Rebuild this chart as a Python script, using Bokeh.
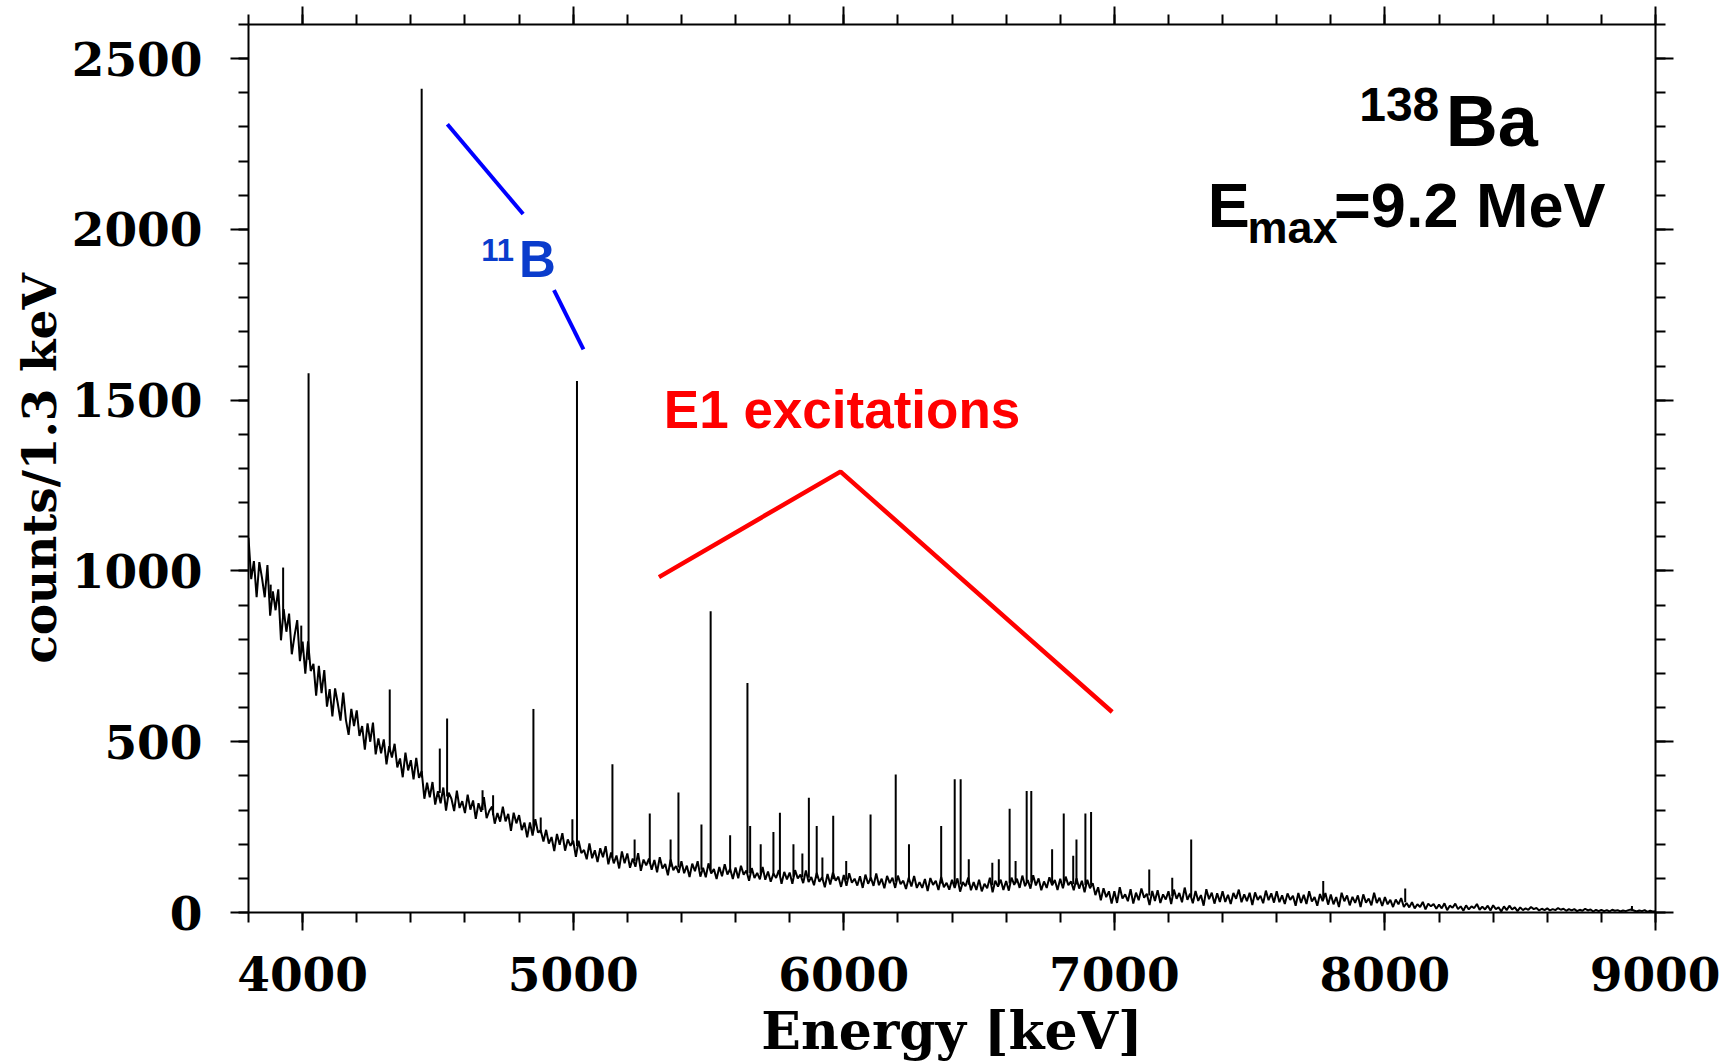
import numpy as np
from bokeh.plotting import figure
from bokeh.models import LinearAxis, FixedTicker, Label, Range1d, CustomLabelingPolicy
from bokeh.embed import file_html
from bokeh.resources import INLINE

# ---------------- data ----------------
x_major = [4000, 5000, 6000, 7000, 8000, 9000]
x_minor = list(range(3800, 9001, 200))
y_major = [0, 500, 1000, 1500, 2000, 2500]
y_minor = list(range(0, 2601, 100))

# continuum, read every 10 keV starting at 3800 keV
bg_start = 3800
bg_step = 10
bg_counts = [
    1097, 976, 1029, 923, 1026, 979, 923, 1017, 869, 940,  # 3800
    885, 946, 797, 888, 822, 875, 756, 810, 856, 736,      # 3900
    793, 699, 794, 707, 728, 635, 722, 642, 710, 603,      # 4000
    654, 574, 656, 612, 562, 644, 564, 520, 596, 546,      # 4100
    592, 517, 546, 477, 554, 500, 556, 463, 510, 466,      # 4200
    507, 434, 487, 454, 494, 425, 451, 396, 468, 416,      # 4300
    446, 390, 453, 394, 414, 333, 380, 337, 382, 316,      # 4400
    355, 320, 366, 298, 351, 333, 297, 357, 306, 326,      # 4500
    291, 345, 301, 328, 274, 320, 295, 338, 276, 298,      # 4600
    310, 260, 291, 266, 310, 267, 289, 239, 292, 261,      # 4700
    285, 241, 263, 220, 264, 225, 273, 234, 241, 208,      # 4800
    242, 202, 221, 180, 230, 198, 232, 181, 214, 195,      # 4900
    210, 163, 210, 174, 183, 156, 202, 159, 182, 148,      # 5000
    188, 162, 194, 141, 176, 144, 167, 129, 179, 144,      # 5100
    173, 131, 158, 134, 174, 122, 155, 138, 158, 125,      # 5200
    154, 118, 162, 129, 142, 109, 155, 124, 136, 116,      # 5300
    150, 115, 137, 104, 143, 121, 150, 105, 131, 103,      # 5400
    144, 114, 127, 98, 133, 106, 141, 111, 128, 98,        # 5500
    132, 100, 137, 111, 123, 93, 130, 101, 116, 97,        # 5600
    133, 96, 120, 90, 114, 101, 124, 84, 119, 97,          # 5700
    117, 84, 124, 100, 111, 86, 123, 89, 104, 80,          # 5800
    116, 90, 103, 74, 113, 82, 117, 93, 105, 75,           # 5900
    110, 78, 115, 87, 99, 79, 106, 72, 111, 84,            # 6000
    102, 78, 114, 80, 99, 71, 107, 86, 102, 72,            # 6100
    108, 83, 93, 69, 102, 76, 107, 72, 89, 72,             # 6200
    98, 63, 101, 81, 93, 66, 104, 74, 87, 67,              # 6300
    96, 72, 100, 61, 89, 77, 102, 65, 89, 66,              # 6400
    96, 62, 84, 71, 102, 59, 93, 76, 96, 66,               # 6500
    92, 64, 102, 81, 99, 72, 108, 77, 95, 70,              # 6600
    109, 79, 100, 65, 91, 72, 103, 80, 95, 66,             # 6700
    99, 71, 105, 80, 91, 65, 100, 70, 93, 59,              # 6800
    96, 71, 86, 51, 74, 36, 71, 45, 62, 26,                # 6900
    62, 28, 74, 41, 53, 33, 68, 26, 58, 36,                # 7000
    70, 43, 55, 22, 63, 34, 65, 28, 53, 38,                # 7100
    62, 25, 67, 40, 57, 30, 73, 37, 55, 27,                # 7200
    63, 34, 51, 20, 68, 39, 58, 26, 56, 31,                # 7300
    62, 31, 52, 25, 57, 40, 67, 30, 53, 33,                # 7400
    58, 22, 59, 37, 49, 27, 64, 36, 56, 29,                # 7500
    62, 30, 50, 25, 56, 37, 49, 20, 57, 28,                # 7600
    52, 25, 62, 32, 45, 20, 54, 33, 57, 23,                # 7700
    53, 24, 45, 16, 58, 33, 50, 21, 46, 28,                # 7800
    50, 16, 53, 29, 41, 21, 58, 28, 43, 19,                # 7900
    45, 24, 37, 16, 38, 24, 42, 16, 28, 15,                # 8000
    30, 12, 24, 16, 31, 9, 26, 18, 25, 11,                 # 8100
    23, 12, 27, 7, 20, 14, 26, 10, 18, 5,                  # 8200
    21, 9, 18, 13, 25, 8, 17, 9, 20, 6,                    # 8300
    21, 10, 15, 3, 18, 7, 20, 9, 15, 4,                    # 8400
    15, 7, 12, 8, 16, 10, 13, 6, 11, 7,                    # 8500
    12, 6, 10, 7, 13, 8, 11, 5, 10, 6,                     # 8600
    10, 4, 8, 5, 11, 6, 9, 3, 8, 4,                        # 8700
    8, 4, 7, 3, 8, 5, 7, 3, 6, 4,                          # 8800
    7, 9, 6, 3, 6, 4, 7, 2, 5, 3,                          # 8900
    4,                                                     # 9000
]

# gamma lines: energy, peak height, foot level
peak_energy = [3882, 3928, 3995, 4022, 4322, 4440, 4507, 4534, 4665, 4704,
               4853, 4880, 4997, 5014, 5145, 5227, 5283, 5360, 5389, 5474,
               5508, 5580, 5644, 5654, 5693, 5740, 5764, 5814, 5847, 5871,
               5900, 5921, 5961, 6009, 6099, 6192, 6241, 6360, 6410, 6432,
               6462, 6549, 6573, 6613, 6635, 6676, 6693, 6770, 6813, 6848,
               6860, 6893, 6914, 7129, 7214, 7284, 7772, 8075, 8913]
peak_top = [960, 1010, 840, 1579, 653, 2412, 480, 568, 358, 343,
            596, 278, 273, 1556, 434, 214, 290, 214, 351, 258,
            882, 226, 672, 253, 200, 236, 292, 200, 173, 336,
            253, 161, 283, 151, 287, 404, 200, 253, 390, 390,
            156, 146, 156, 304, 151, 356, 356, 185, 290, 166,
            214, 290, 294, 126, 102, 214, 92, 70, 19]
peak_base = [920, 860, 760, 740, 470, 395, 350, 340, 300, 285,
             240, 232, 200, 195, 160, 150, 142, 134, 132, 125,
             122, 118, 115, 115, 112, 110, 108, 105, 103, 102,
             100, 99, 97, 96, 93, 90, 89, 85, 83, 82,
             81, 80, 82, 85, 86, 88, 88, 86, 85, 83,
             82, 80, 80, 50, 48, 46, 38, 30, 5]

# annotation guide lines
b11_line1_x = [4535, 4815]
b11_line1_y = [2308, 2045]
b11_line2_x = [4929, 5038]
b11_line2_y = [1822, 1649]
e1_line_x = [5317, 5988, 6992]
e1_line_y = [982, 1291, 587]

# ---------------- figure ----------------
p = figure(width=1720, height=1063, output_backend="svg", toolbar_location=None,
           x_range=Range1d(3800, 9000), y_range=Range1d(0, 2600),
           min_border_left=248, min_border_right=65, min_border_top=24,
           min_border_bottom=151, background_fill_color="white",
           border_fill_color="white")
p.grid.visible = False
p.outline_line_color = None

bg_energy = bg_start + bg_step * np.arange(len(bg_counts))
p.line(bg_energy, bg_counts, line_color="black", line_width=2)
p.segment(x0=peak_energy, y0=peak_base, x1=peak_energy, y1=peak_top,
          line_color="black", line_width=2)

p.line(b11_line1_x, b11_line1_y, line_color="#0000ff", line_width=4)
p.line(b11_line2_x, b11_line2_y, line_color="#0000ff", line_width=4)
p.line(e1_line_x, e1_line_y, line_color="#ff0000", line_width=4.5)

SERIF = "DejaVu Serif"


def style(ax, labels=True):
    ax.axis_line_width = 2
    ax.axis_line_color = "black"
    ax.major_tick_line_width = 2
    ax.minor_tick_line_width = 2
    ax.major_tick_out = 18
    ax.major_tick_in = 0
    ax.minor_tick_out = 10
    ax.minor_tick_in = 0
    if labels:
        ax.major_label_text_font = SERIF
        ax.major_label_text_font_style = "bold"
        ax.major_label_text_font_size = "47px"
        ax.major_label_text_color = "black"
        ax.axis_label_text_font = SERIF
        ax.axis_label_text_font_style = "bold"
        ax.axis_label_text_color = "black"
    else:
        ax.major_label_text_font_size = "1px"
        ax.major_label_standoff = 0
        ax.major_label_policy = CustomLabelingPolicy(code="return []")


p.xaxis.ticker = FixedTicker(ticks=x_major, minor_ticks=x_minor)
p.yaxis.ticker = FixedTicker(ticks=y_major, minor_ticks=y_minor)
p.xaxis.axis_label = "Energy [keV]"
p.yaxis.axis_label = "counts/1.3 keV"
for ax in p.xaxis + p.yaxis:
    style(ax)
p.xaxis.axis_label_text_font_size = "52px"
p.yaxis.axis_label_text_font_size = "47px"
p.xaxis.major_label_standoff = 26
p.xaxis.axis_label_standoff = 6
p.yaxis.major_label_standoff = 28
p.yaxis.axis_label_standoff = 2
p.yaxis.major_label_orientation = "horizontal"

top_ax = LinearAxis(ticker=FixedTicker(ticks=x_major, minor_ticks=x_minor))
right_ax = LinearAxis(ticker=FixedTicker(ticks=y_major, minor_ticks=y_minor))
style(top_ax, labels=False)
style(right_ax, labels=False)
p.add_layout(top_ax, "above")
p.add_layout(right_ax, "right")

SANS = "Liberation Sans"


def lab(x, y, text, size, color="black"):
    p.add_layout(Label(x=x, y=y, text=text, text_font=SANS, text_font_style="bold",
                       text_font_size=size, text_color=color,
                       text_baseline="alphabetic", text_align="left"))


lab(7905, 2365, "138", "48px")
lab(8225, 2316, "Ba", "72px")
lab(7345, 2072, "E", "63px")
lab(7492, 2005, "max", "45px")
lab(7812, 2072, "=9.2 MeV", "63px")
lab(4660, 1940, "11", "31px", "#0a3ccc")
lab(4800, 1912, "B", "51px", "#0a3ccc")
lab(5335, 1472, "E1 excitations", "53px", "#ff0000")

open("out.html", "w").write(file_html(p, INLINE))
